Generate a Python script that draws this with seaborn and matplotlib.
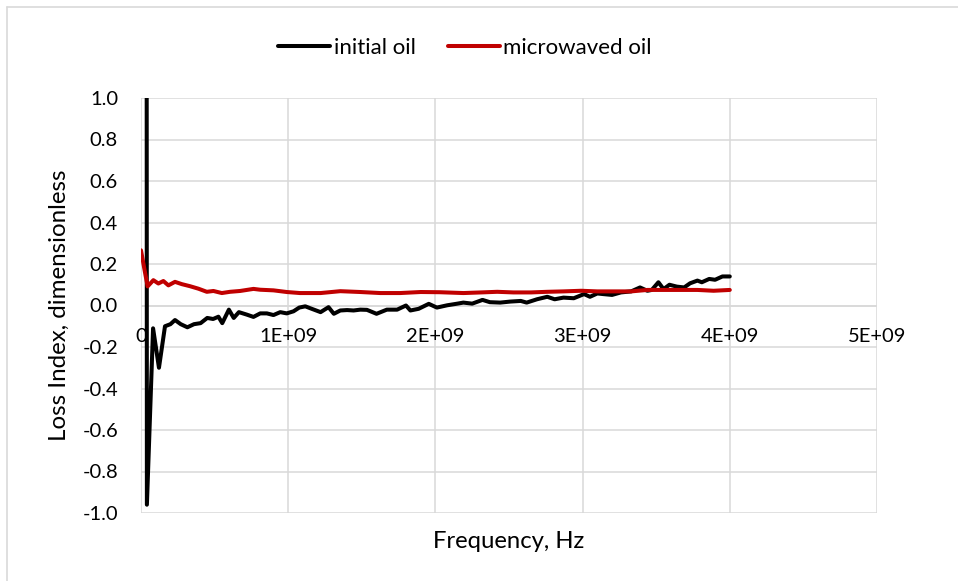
import numpy as np
import pandas as pd
import matplotlib
matplotlib.use("Agg")
import matplotlib.pyplot as plt
from matplotlib.lines import Line2D
import seaborn as sns

# Frequency sweep (GHz) and loss index for the untreated oil
freq_initial_ghz = [
    0.000, 0.040, 0.082, 0.122, 0.163, 0.200, 0.231, 0.270, 0.315, 0.360,
    0.405, 0.450, 0.490, 0.526, 0.552, 0.597, 0.630, 0.665, 0.719, 0.764,
    0.810, 0.855, 0.900, 0.946, 0.990, 1.036, 1.075, 1.116, 1.160, 1.220,
    1.274, 1.310, 1.354, 1.400, 1.444, 1.490, 1.535, 1.600, 1.670, 1.740,
    1.800, 1.830, 1.886, 1.955, 2.010, 2.080, 2.150, 2.190, 2.250, 2.320,
    2.370, 2.440, 2.510, 2.580, 2.620, 2.690, 2.760, 2.810, 2.870, 2.940,
    3.010, 3.050, 3.100, 3.140, 3.200, 3.260, 3.330, 3.390, 3.440, 3.470,
    3.515, 3.550, 3.590, 3.640, 3.690, 3.730, 3.780, 3.810, 3.860, 3.900,
    3.950, 4.000,
]
loss_initial = [
    60.0, -0.96, -0.11, -0.30, -0.10, -0.09, -0.07, -0.09, -0.105, -0.09,
    -0.085, -0.06, -0.065, -0.054, -0.085, -0.02, -0.06, -0.032, -0.044, -0.055,
    -0.038, -0.038, -0.046, -0.032, -0.038, -0.028, -0.010, -0.004, -0.016, -0.032,
    -0.008, -0.040, -0.024, -0.022, -0.024, -0.020, -0.021, -0.040, -0.020, -0.020,
    0.000, -0.024, -0.016, 0.008, -0.010, 0.001, 0.009, 0.014, 0.009, 0.027,
    0.016, 0.014, 0.019, 0.022, 0.014, 0.030, 0.042, 0.030, 0.038, 0.035,
    0.055, 0.042, 0.058, 0.055, 0.051, 0.063, 0.068, 0.087, 0.071, 0.075,
    0.112, 0.079, 0.100, 0.091, 0.087, 0.107, 0.120, 0.112, 0.128, 0.124,
    0.140, 0.140,
]

# Frequency sweep (GHz) and loss index for the microwaved oil
freq_micro_ghz = [
    0.000, 0.027, 0.045, 0.084, 0.118, 0.152, 0.186, 0.231, 0.277, 0.333,
    0.390, 0.447, 0.492, 0.549, 0.605, 0.673, 0.764, 0.810, 0.900, 0.990,
    1.080, 1.220, 1.354, 1.490, 1.626, 1.760, 1.900, 2.030, 2.190, 2.310,
    2.420, 2.530, 2.650, 2.760, 2.870, 2.990, 3.100, 3.210, 3.330, 3.440,
    3.550, 3.670, 3.780, 3.890, 4.000,
]
loss_micro = [
    0.266, 0.160, 0.092, 0.122, 0.106, 0.118, 0.097, 0.114, 0.103, 0.093,
    0.081, 0.066, 0.070, 0.060, 0.066, 0.070, 0.080, 0.076, 0.073, 0.065,
    0.060, 0.060, 0.069, 0.065, 0.060, 0.060, 0.065, 0.064, 0.060, 0.063,
    0.066, 0.063, 0.063, 0.066, 0.068, 0.071, 0.068, 0.068, 0.068, 0.075,
    0.075, 0.075, 0.075, 0.071, 0.075,
]

series_names = ["initial oil", "microwaved oil"]
series_colors = ["#000000", "#C00000"]

x_ticks = [0, 1e9, 2e9, 3e9, 4e9, 5e9]
x_tick_labels = ["0", "1E+09", "2E+09", "3E+09", "4E+09", "5E+09"]
y_ticks = [-1.0, -0.8, -0.6, -0.4, -0.2, 0.0, 0.2, 0.4, 0.6, 0.8, 1.0]
y_tick_labels = ["-1.0", "-0.8", "-0.6", "-0.4", "-0.2", "0.0", "0.2", "0.4", "0.6", "0.8", "1.0"]

df = pd.concat([
    pd.DataFrame({"freq": np.array(freq_initial_ghz) * 1e9, "loss": loss_initial,
                  "sample": series_names[0]}),
    pd.DataFrame({"freq": np.array(freq_micro_ghz) * 1e9, "loss": loss_micro,
                  "sample": series_names[1]}),
], ignore_index=True)

sns.set_theme(style="white")
plt.rcParams["font.family"] = ["Lato", "DejaVu Sans"]

W, H = 958, 581
fig = plt.figure(figsize=(W / 100, H / 100), dpi=100)
ax_left, ax_right, ax_top, ax_bottom = 141, 877, 98, 513
ax = fig.add_axes([ax_left / W, 1 - ax_bottom / H,
                   (ax_right - ax_left) / W, (ax_bottom - ax_top) / H])

grid_color = "#D9D9D9"
text_color = "#000000"
line_w = 2.9

sns.lineplot(data=df, x="freq", y="loss", hue="sample", hue_order=series_names,
             palette=dict(zip(series_names, series_colors)), sort=False,
             estimator=None, linewidth=line_w, legend=False, ax=ax, zorder=3)

ax.set_xlim(0, 5e9)
ax.set_ylim(-1.0, 1.0)
ax.set_xticks(x_ticks)
ax.set_xticklabels(x_tick_labels)
ax.set_yticks(y_ticks)
ax.set_yticklabels(y_tick_labels)
ax.grid(True, color=grid_color, linewidth=1.1, zorder=0)
ax.set_axisbelow(True)
for s in ax.spines.values():
    s.set_visible(False)

# Horizontal axis crosses at zero; its tick labels hang just below that line
ax.axhline(0, color=grid_color, linewidth=1.1, zorder=1)
ax.spines["bottom"].set_position(("data", 0))
ax.tick_params(axis="x", length=0, pad=16.5, labelsize=14.5, labelcolor=text_color)
ax.tick_params(axis="y", length=0, pad=16.5, labelsize=14.5, labelcolor=text_color)

ax.set_xlabel("Frequency, Hz", fontsize=17.2, color=text_color)
ax.set_ylabel("Loss Index, dimensionless", fontsize=17.4, color=text_color)
ax.xaxis.label.set_va("center")
ax.xaxis.set_label_coords(((ax_left + ax_right) / 2 - ax_left) / (ax_right - ax_left),
                          (ax_bottom - 541) / (ax_bottom - ax_top))
ax.yaxis.label.set_va("center")
ax.yaxis.set_label_coords((59 - ax_left) / (ax_right - ax_left), 0.5)

handles = [Line2D([], [], color=c, linewidth=line_w) for c in series_colors]
fig.legend(handles, series_names, loc="center", ncol=2, frameon=False,
           bbox_to_anchor=(465 / W, 1 - 48 / H), fontsize=16,
           handlelength=2.35, handletextpad=0.15, columnspacing=1.45,
           labelcolor=text_color)

# Chart area outline
fig.add_artist(Line2D([6.5 / W, 6.5 / W], [0, 1 - 6.5 / H], color=grid_color,
                      linewidth=1.2, transform=fig.transFigure))
fig.add_artist(Line2D([6.5 / W, 1], [1 - 6.5 / H, 1 - 6.5 / H], color=grid_color,
                      linewidth=1.2, transform=fig.transFigure))

fig.savefig("out.png", dpi=100)
